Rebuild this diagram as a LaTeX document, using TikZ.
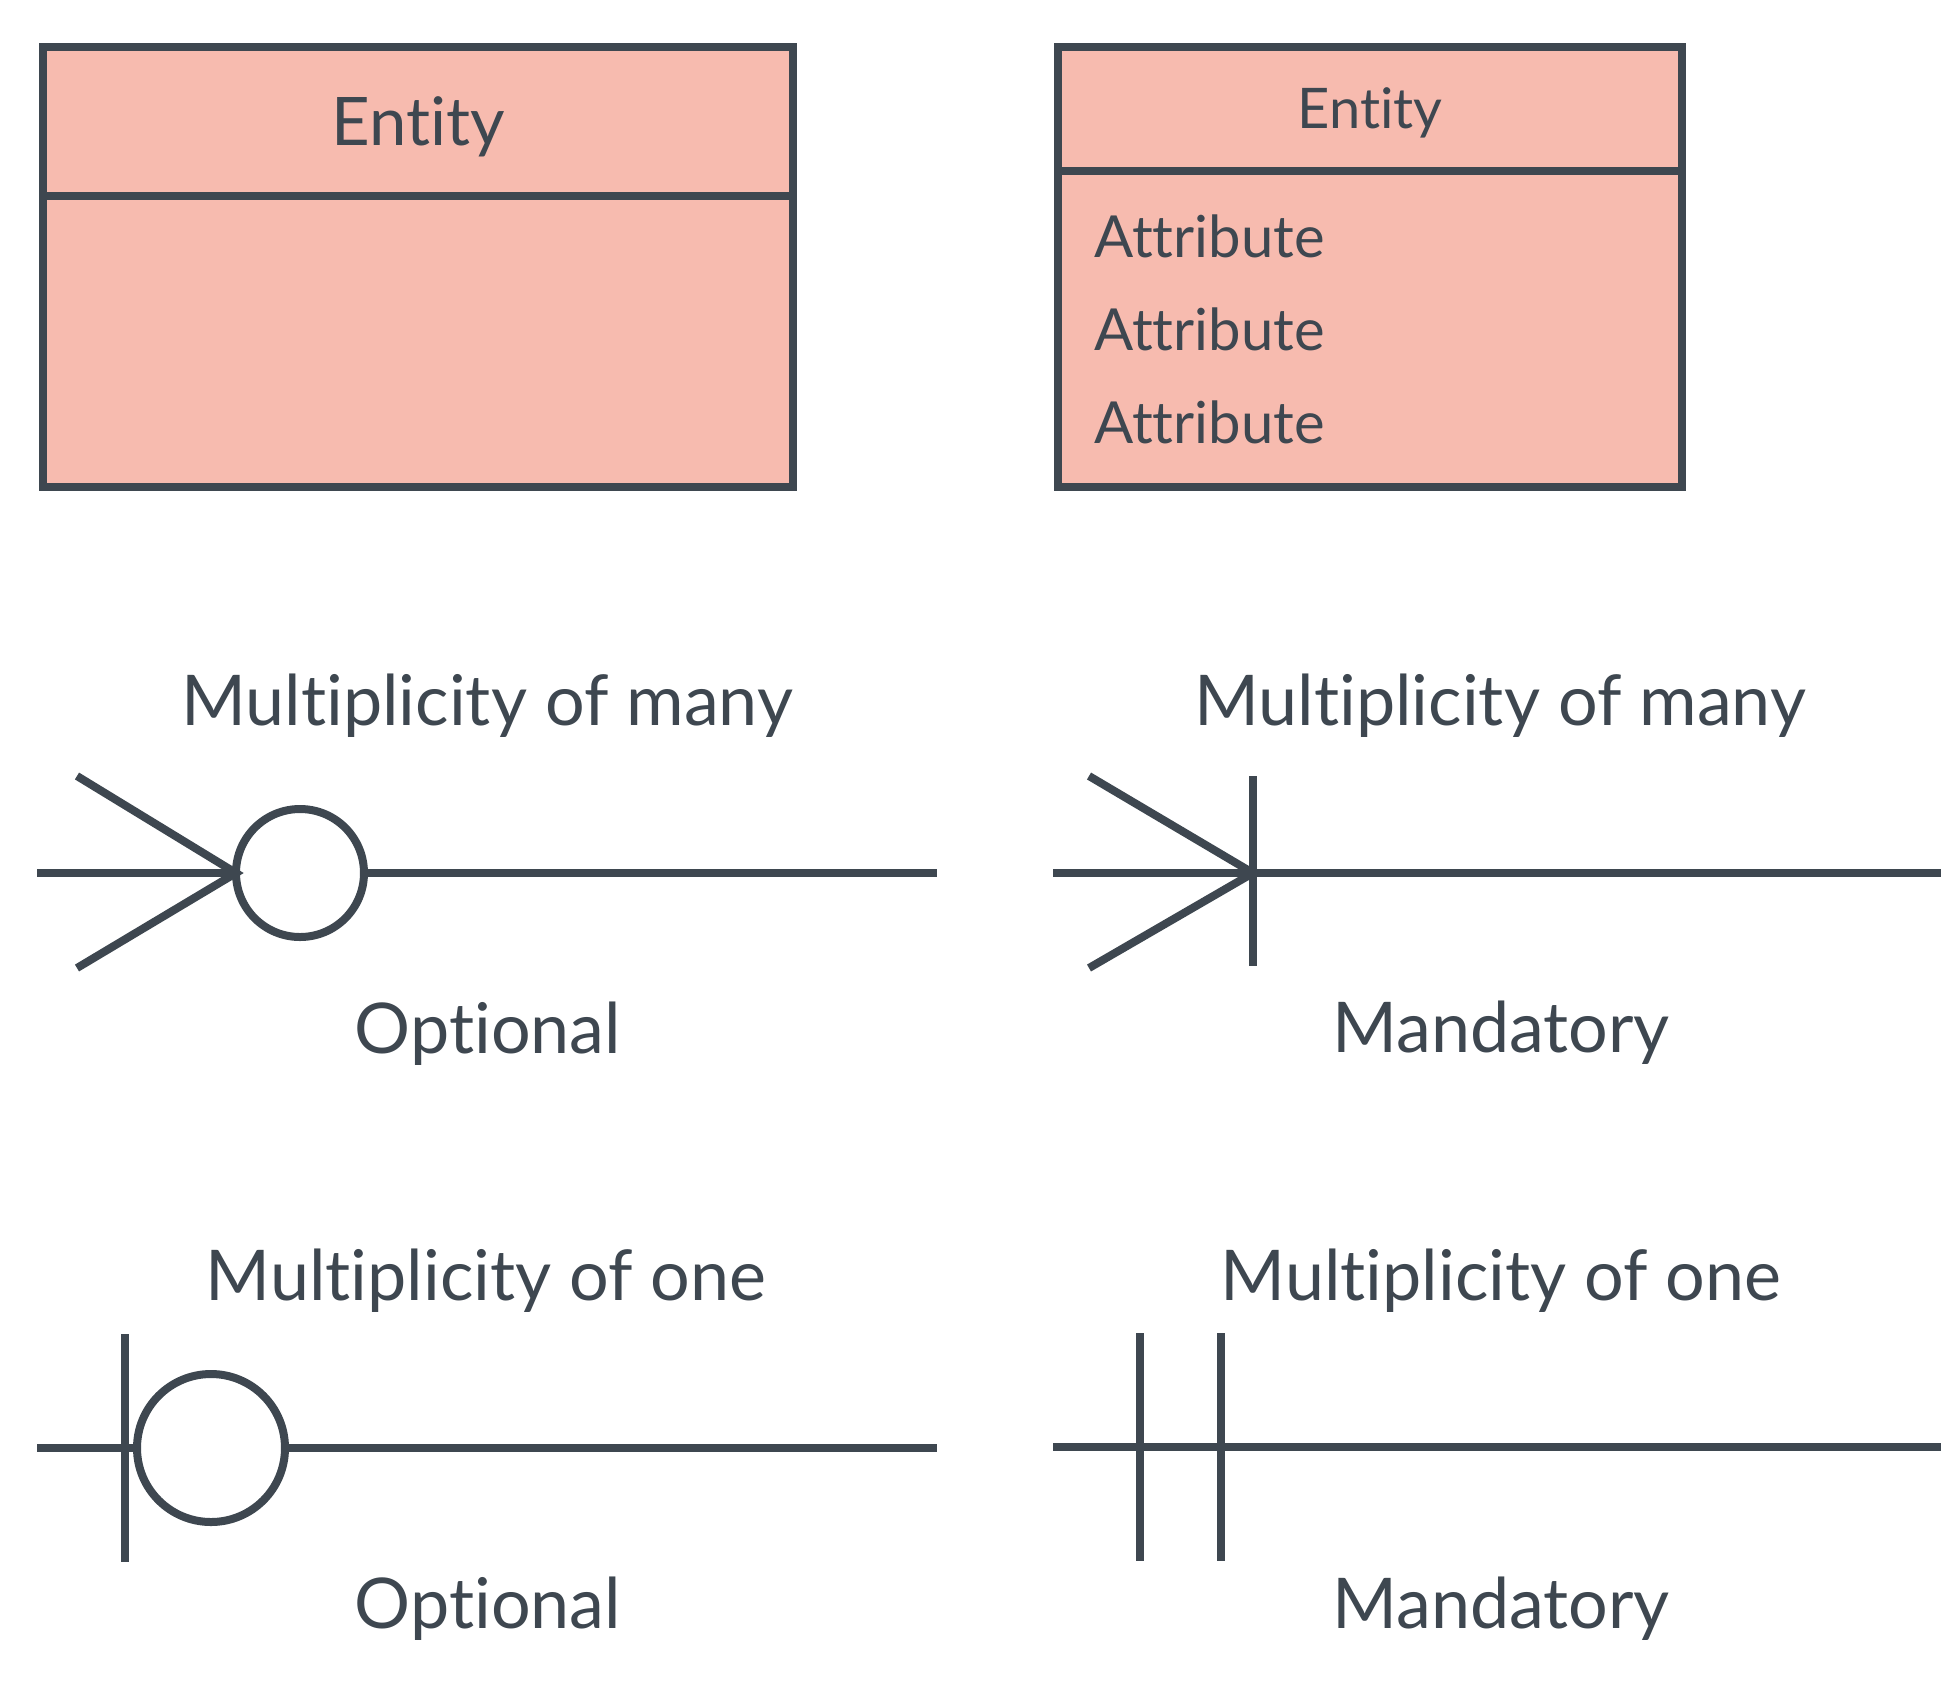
\documentclass[tikz,border=0pt]{standalone}
\usepackage{fontspec}
\setmainfont[Ligatures=NoCommon]{Lato}
\usetikzlibrary{positioning}
\definecolor{ink}{HTML}{3E4750}
\definecolor{salmon}{HTML}{F7BBAF}
\tikzset{
  ln/.style = {draw=ink, line width=4pt},
  ring/.style = {circle, draw=ink, line width=4pt, inner sep=0pt, outer sep=0pt},
  lbl/.style = {text=ink, inner sep=0pt, anchor=base, font=\fontsize{35}{42}\selectfont},
  attr/.style = {text=ink, inner sep=0pt, anchor=base west, font=\fontsize{29}{35}\selectfont}
}
\begin{document}
\begin{tikzpicture}[x=0.5pt, y=-0.5pt]
\useasboundingbox[fill=white] (0,0) rectangle (1941,1681);

% entity boxes
\draw[ln, fill=salmon] (43,47) rectangle (793,487);
\draw[ln] (43,196) -- (793,196);
\node[lbl, font=\fontsize{33.5}{40}\selectfont] (ent1) at (418,145) {Entity};

\draw[ln, fill=salmon] (1058,47) rectangle (1682,487);
\draw[ln] (1058,171) -- (1682,171);
\node[lbl, font=\fontsize{28}{34}\selectfont] (ent2) at (1370,128) {Entity};
\node[attr] (att1) at (1094,257) {Attribute};
\node[attr] (att2) at (1094,350) {Attribute};
\node[attr] (att3) at (1094,443) {Attribute};

% many, optional
\node[lbl] (t1) at (487,725) {Multiplicity of many};
\node[ring, minimum size=64pt] (c1) at (300,873) {};
\coordinate (a1) at (37,873);
\coordinate (b1) at (937,873);
\draw[ln] (a1) -- (c1.west);
\draw[ln] (c1.east) -- (b1);
\draw[ln] (77,776) -- (c1.west) -- (77,968);
\node[lbl] (o1) at (488,1053) {Optional};

% many, mandatory
\node[lbl] (t2) at (1500,725) {Multiplicity of many};
\coordinate (m2) at (1253,873);
\coordinate (a2) at (1053,873);
\coordinate (b2) at (1941,873);
\draw[ln] (a2) -- (b2);
\draw[ln] (1089,776) -- (m2) -- (1089,968);
\draw[ln] (m2 |- 0,776) -- (m2 |- 0,966);
\node[lbl] (o2) at (1501,1052) {Mandatory};

% one, optional
\node[lbl] (t3) at (486,1300) {Multiplicity of one};
\node[ring, minimum size=74pt] (c3) at (211,1448) {};
\coordinate (a3) at (37,1448);
\coordinate (b3) at (937,1448);
\draw[ln] (a3) -- (c3.west);
\draw[ln] (c3.east) -- (b3);
\draw[ln] (125,1334) -- (125,1562);
\node[lbl] (o3) at (488,1628) {Optional};

% one, mandatory
\node[lbl] (t4) at (1501,1300) {Multiplicity of one};
\coordinate (a4) at (1053,1447);
\coordinate (b4) at (1941,1447);
\draw[ln] (a4) -- (b4);
\draw[ln] (1140,1333) -- (1140,1561);
\draw[ln] (1221,1333) -- (1221,1561);
\node[lbl] (o4) at (1501,1628) {Mandatory};
\end{tikzpicture}
\end{document}
